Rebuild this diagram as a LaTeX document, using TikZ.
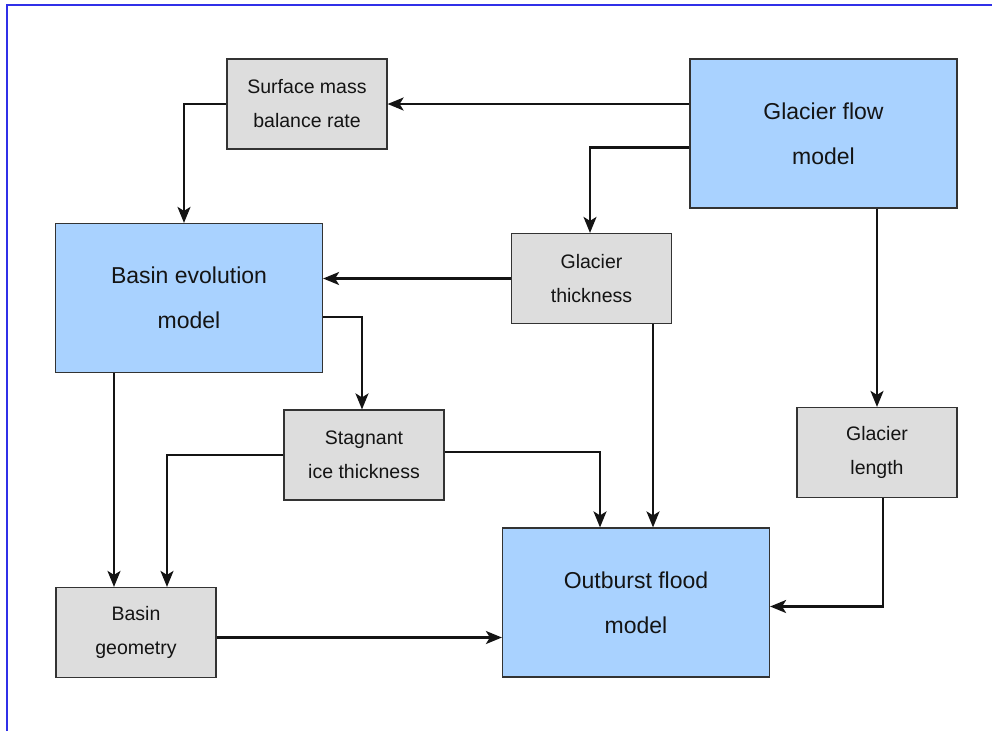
\documentclass[tikz,border=0pt]{standalone}
\usepackage{fontspec}
\setmainfont{Liberation Sans}
\usetikzlibrary{arrows.meta}
\definecolor{boxblue}{HTML}{A9D2FF}
\definecolor{boxgray}{HTML}{DDDDDD}
\definecolor{frameblue}{HTML}{3030E8}
\definecolor{edgegray}{HTML}{333333}
\definecolor{linecol}{HTML}{141414}
\begin{document}
\begin{tikzpicture}[x=1pt,y=-1pt,
  box/.style={draw=edgegray, line width=1.2pt, inner sep=0pt, align=center, text=linecol},
  smallbox/.style={box, fill=boxgray, minimum width=160pt, minimum height=90pt, font=\fontsize{19.5}{34}\selectfont},
  bigbox/.style={box, fill=boxblue, minimum width=267pt, minimum height=149pt, font=\fontsize{23}{45}\selectfont},
  conn/.style={line width=2.2pt, draw=linecol, -{Stealth[length=16pt,width=13pt,inset=4pt]}}]
\useasboundingbox (0,0) rectangle (992,731);
\draw[frameblue, line width=1.3pt] (7,731) -- (7,5) -- (992,5);

\node[smallbox] (smb) at (307,104) {Surface mass\\ balance rate};
\node[bigbox] (gf) at (823.5,133.5) {Glacier flow\\model};
\node[smallbox] (gt) at (591.5,278.5) {Glacier\\thickness};
\node[bigbox] (be) at (189,298) {Basin evolution\\model};
\node[smallbox] (st) at (364,455) {Stagnant\\ice thickness};
\node[smallbox] (gl) at (877,452.5) {Glacier\\length};
\node[smallbox] (bg) at (136,632.5) {Basin\\geometry};
\node[bigbox] (of) at (636,602.5) {Outburst flood\\model};

\draw[conn] (gf.west |- smb.east) -- (smb.east);
\draw[conn] (smb.west) -| ([xshift=-5pt]be.north);
\draw[conn] ([yshift=-14pt]gf.west) -| ([xshift=-1.5pt]gt.north);
\draw[conn] (gt.west) -- (gt.west -| be.east);
\draw[conn] ([yshift=-19pt]be.east) -| ([xshift=-2pt]st.north);
\draw[conn] (gl.north |- gf.south) -- (gl.north);
\draw[conn] ([xshift=-22pt]bg.north |- be.south) -- ([xshift=-22pt]bg.north);
\draw[conn] (st.west) -| ([xshift=31pt]bg.north);
\draw[conn] ([yshift=3pt]st.east) -| ([xshift=-36pt]of.north);
\draw[conn] ([xshift=17pt]of.north |- gt.south) -- ([xshift=17pt]of.north);
\draw[conn] ([xshift=6pt]gl.south) |- ([yshift=-4pt]of.east);
\draw[conn] ([yshift=-5pt]bg.east) -- ([yshift=-5pt]bg.east -| of.west);
\end{tikzpicture}
\end{document}
